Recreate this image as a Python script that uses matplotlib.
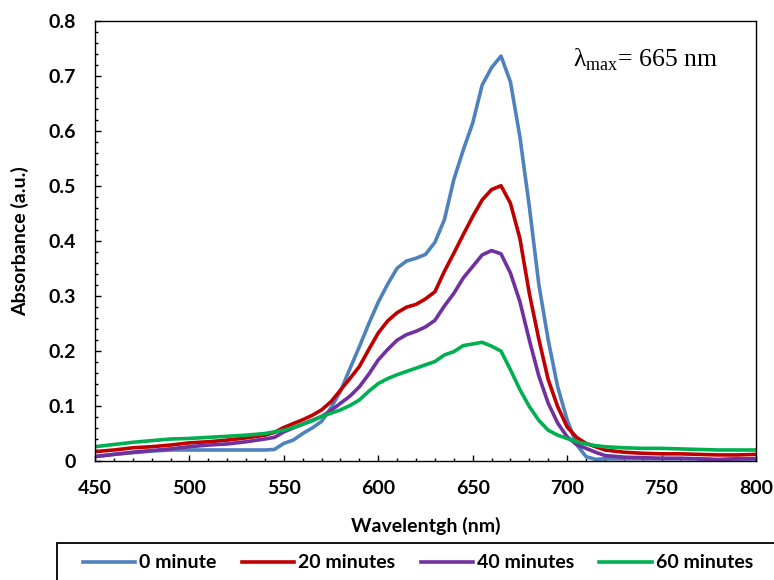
import matplotlib
matplotlib.use("Agg")
import matplotlib.pyplot as plt
from matplotlib.patches import Rectangle
from matplotlib.ticker import MultipleLocator
from matplotlib.font_manager import FontProperties

# wavelength grid (nm)
wavelength = [450, 460, 470, 480, 490, 500, 510, 520, 530, 540,
              545, 550, 555, 560, 565, 570, 575, 580, 585, 590,
              595, 600, 605, 610, 615, 620, 625, 630, 635, 640,
              645, 650, 655, 660, 665, 670, 675, 680, 685, 690,
              695, 700, 705, 710, 715, 720, 730, 740, 750, 760,
              770, 780, 790, 800]

abs_0min = [0.008, 0.012, 0.015, 0.018, 0.020, 0.020, 0.020, 0.020, 0.020, 0.020,
            0.021, 0.032, 0.038, 0.050, 0.060, 0.072, 0.097, 0.127, 0.168, 0.208,
            0.250, 0.289, 0.322, 0.351, 0.364, 0.369, 0.376, 0.398, 0.439, 0.512,
            0.566, 0.615, 0.684, 0.716, 0.737, 0.690, 0.590, 0.463, 0.322, 0.220,
            0.135, 0.075, 0.030, 0.008, 0.003, 0.004, 0.004, 0.004, 0.004, 0.004,
            0.004, 0.003, 0.004, 0.004]

abs_20min = [0.017, 0.020, 0.024, 0.026, 0.029, 0.033, 0.035, 0.038, 0.042, 0.047,
             0.052, 0.061, 0.068, 0.075, 0.083, 0.093, 0.108, 0.129, 0.150, 0.172,
             0.203, 0.233, 0.255, 0.270, 0.280, 0.285, 0.295, 0.308, 0.345, 0.378,
             0.412, 0.445, 0.475, 0.494, 0.501, 0.469, 0.405, 0.305, 0.222, 0.148,
             0.099, 0.062, 0.043, 0.032, 0.026, 0.020, 0.016, 0.014, 0.013, 0.013,
             0.012, 0.011, 0.011, 0.012]

abs_40min = [0.008, 0.012, 0.016, 0.019, 0.022, 0.026, 0.029, 0.031, 0.035, 0.040,
             0.043, 0.053, 0.060, 0.067, 0.074, 0.081, 0.092, 0.105, 0.118, 0.135,
             0.158, 0.184, 0.203, 0.220, 0.230, 0.236, 0.244, 0.256, 0.282, 0.305,
             0.333, 0.354, 0.375, 0.383, 0.377, 0.342, 0.290, 0.220, 0.155, 0.105,
             0.069, 0.044, 0.030, 0.023, 0.016, 0.010, 0.007, 0.006, 0.005, 0.005,
             0.004, 0.002, 0.004, 0.004]

abs_60min = [0.026, 0.030, 0.034, 0.037, 0.040, 0.041, 0.043, 0.045, 0.047, 0.050,
             0.053, 0.056, 0.061, 0.067, 0.073, 0.081, 0.087, 0.093, 0.101, 0.111,
             0.127, 0.141, 0.150, 0.157, 0.163, 0.169, 0.175, 0.181, 0.193, 0.199,
             0.210, 0.213, 0.216, 0.209, 0.200, 0.166, 0.130, 0.099, 0.074, 0.056,
             0.047, 0.041, 0.035, 0.031, 0.028, 0.026, 0.024, 0.023, 0.023, 0.022,
             0.021, 0.020, 0.020, 0.020]

labels = ['0 minute', '20 minutes', '40 minutes', '60 minutes']
colours = ['#4F81BD', '#C00000', '#7030A0', '#00B050']
series = [abs_0min, abs_20min, abs_40min, abs_60min]

fsize = 14
bold = dict(family='Lato', weight='bold')

fig = plt.figure(figsize=(7.74, 5.80), dpi=100)
ax = fig.add_axes([0.1227, 0.2052, 0.8540, 0.7578])

lines = []
for y, c, lab in zip(series, colours, labels):
    ln, = ax.plot(wavelength, y, color=c, lw=2.6, label=lab)
    lines.append(ln)

ax.set_xlim(450, 800)
ax.set_ylim(0, 0.8)
ax.xaxis.set_major_locator(MultipleLocator(50))
ax.xaxis.set_minor_locator(MultipleLocator(10))
ax.yaxis.set_minor_locator(MultipleLocator(0.02))
ax.set_yticks([0, 0.1, 0.2, 0.3, 0.4, 0.5, 0.6, 0.7, 0.8])
ax.set_yticklabels(['0', '0.1', '0.2', '0.3', '0.4', '0.5', '0.6', '0.7', '0.8'])
ax.tick_params(which='both', direction='in', top=False, right=False, width=1)
ax.tick_params(which='major', length=4, pad=14)
ax.tick_params(which='minor', length=2.5)
for t in ax.get_xticklabels() + ax.get_yticklabels():
    t.set_fontproperties(FontProperties(**bold, size=fsize))
for s in ax.spines.values():
    s.set_linewidth(1.0)

ax.set_xlabel('Wavelentgh (nm)', fontsize=fsize, **bold)
ax.xaxis.set_label_coords(0.5, -0.147)
ax.xaxis.label.set_va('center')
ax.set_ylabel('Absorbance (a.u.)', fontsize=fsize, **bold)
ax.yaxis.set_label_coords(-0.113, 0.5)
ax.yaxis.label.set_va('center')

ax.text(703, 0.718, r'λ$_{\mathregular{max}}$= 665 nm', family='Liberation Serif',
        fontsize=18.5, va='baseline', ha='left')

# legend box at the bottom, running off the right edge
fig.patches.append(Rectangle((57 / 774, -0.05), 0.99, 1 - 543 / 580 + 0.05,
                             transform=fig.transFigure, fill=False,
                             edgecolor='black', lw=1.3))
fig.legend(handles=lines, loc='center left', bbox_to_anchor=(73 / 774, 1 - 563 / 580),
           ncol=4, frameon=False, borderpad=0, handlelength=2.7, handletextpad=0.2,
           columnspacing=1.3, prop=dict(**bold, size=fsize))

fig.savefig('out.png', dpi=100)
